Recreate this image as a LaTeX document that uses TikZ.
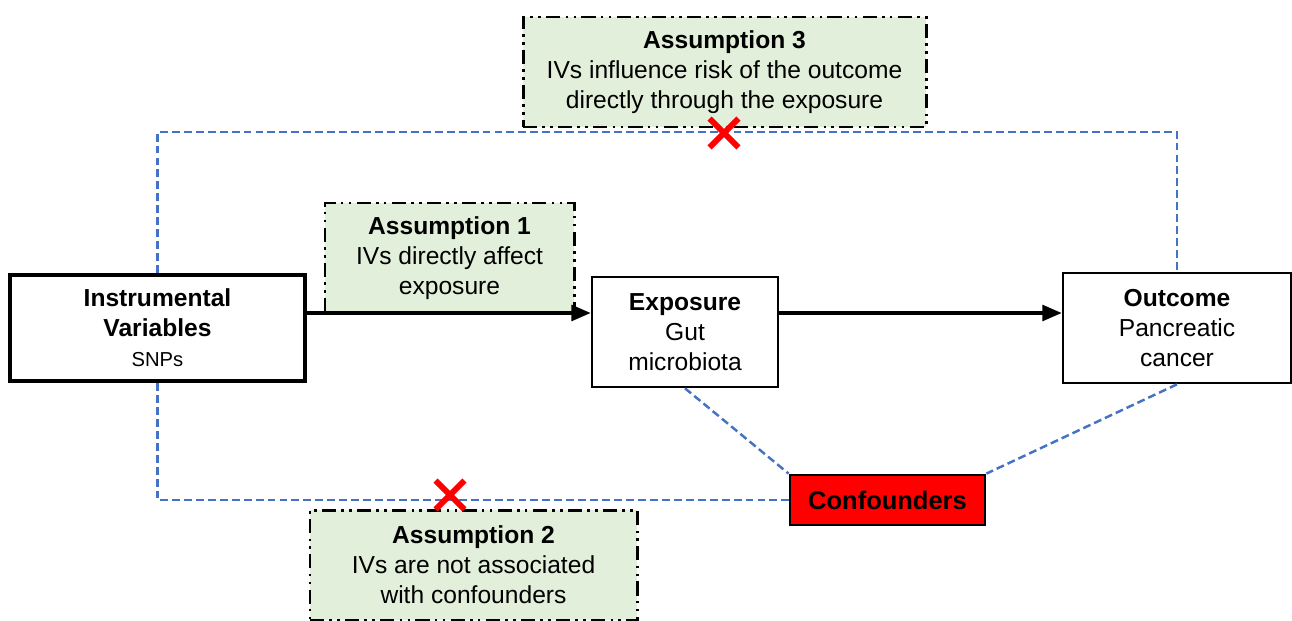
\documentclass[tikz,border=0pt]{standalone}
\usepackage{fontspec}
\setmainfont{Liberation Sans}
\usepackage{tikz}
\usetikzlibrary{arrows.meta, shapes.misc}

\definecolor{assgreen}{RGB}{226,239,218}
\definecolor{linkblue}{RGB}{68,114,196}

\begin{document}
\begin{tikzpicture}[font=\fontsize{14}{17}\selectfont, >={Triangle[length=11pt,width=9pt]},
    mainbox/.style={draw, line width=1.5pt, fill=white, align=center, inner sep=2pt},
    assbox/.style={draw, line width=1.7pt, fill=assgreen, align=center, minimum height=2.2cm,
      dash pattern=on 8pt off 3pt on 1.5pt off 3pt on 1.5pt off 3pt},
    link/.style={draw=linkblue, line width=1.4pt, dash pattern=on 4.5pt off 2.3pt},
    nomark/.style={cross out, draw=red, line width=3.4pt, minimum size=0.46cm, inner sep=0pt}]
    \useasboundingbox (0,0) rectangle (25.84,12.4);
    % main chain
    \node[mainbox, line width=2.3pt, minimum width=5.9cm, minimum height=2.12cm] (iv) at (3.15,5.84)
      {\textbf{Instrumental}\\\textbf{Variables}\\{\fontsize{11.5}{13}\selectfont SNPs}};
    \node[mainbox, minimum width=3.72cm, minimum height=2.2cm] (exp) at (13.7,5.76)
      {\textbf{Exposure}\\Gut\\microbiota};
    \node[mainbox, minimum width=4.56cm, minimum height=2.2cm] (out) at (23.54,5.84)
      {\textbf{Outcome}\\Pancreatic\\cancer};
    \node[draw, line width=1.6pt, fill=red, minimum width=3.9cm, minimum height=1.0cm,
      font=\fontsize{14.5}{17}\selectfont\bfseries] (conf) at (17.75,2.4) {Confounders};
    % assumptions
    \node[assbox, minimum width=8.06cm] (a3) at (14.49,10.96)
      {\textbf{Assumption 3}\\IVs influence risk of the outcome\\directly through the exposure};
    \node[assbox, minimum width=4.98cm] (a1) at (8.99,7.24)
      {\textbf{Assumption 1}\\IVs directly affect\\exposure};
    \node[assbox, minimum width=6.54cm] (a2) at (9.47,1.1)
      {\textbf{Assumption 2}\\IVs are not associated\\with confounders};
    % dashed links
    \coordinate (topline) at (0,9.76);
    \draw[link] (iv.north) -- (iv.north |- topline) -| (out.north);
    \draw[link] (iv.south) |- (conf.west);
    \draw[link] (exp.south) -- (conf.north west);
    \draw[link] (out.south) -- (conf.north east);
    % arrows
    \draw[->, line width=1.8pt] ([yshift=0.3cm]iv.east) -- ([yshift=0.38cm]exp.west);
    \draw[->, line width=1.8pt] ([yshift=0.38cm]exp.east) -- ([yshift=0.3cm]out.west);
    % violated paths
    \node[nomark] (x3) at (14.48,9.74) {};
    \node[nomark] (x2) at (9.0,2.5) {};
  \end{tikzpicture}
\end{document}
